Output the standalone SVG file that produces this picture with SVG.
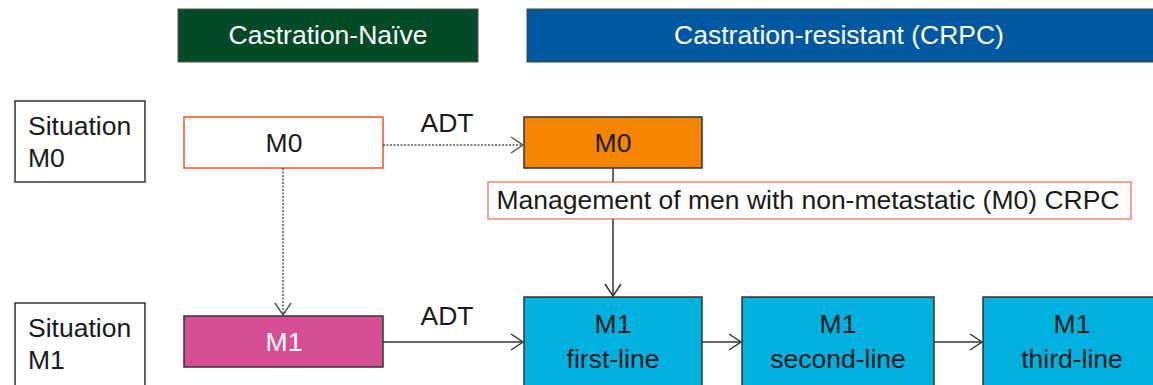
<svg xmlns="http://www.w3.org/2000/svg" width="1153" height="385" viewBox="0 0 1153 385">
<style>
  text { font-family: "Liberation Sans", Arial, sans-serif; font-size: 26.5px; fill: #1a1a1a; }
  .c { text-anchor: middle; }
  .w { fill: #ffffff; }
  .box { stroke: #333333; stroke-width: 1.5; }
  .line { stroke: #333333; stroke-width: 1.5; fill: none; }
  .dash { stroke: #555555; stroke-width: 1.5; fill: none; stroke-dasharray: 2 1.5; }
</style>
<defs>
  <marker id="arr" viewBox="0 0 14 18" refX="13" refY="9" markerWidth="14" markerHeight="18" markerUnits="userSpaceOnUse" orient="auto">
    <path d="M1,1 L13,9 L1,17" fill="none" stroke="#333333" stroke-width="1.5"/>
  </marker>
  <marker id="arrd" viewBox="0 0 14 18" refX="13" refY="9" markerWidth="14" markerHeight="18" markerUnits="userSpaceOnUse" orient="auto">
    <path d="M1,1 L13,9 L1,17" fill="none" stroke="#555555" stroke-width="1.5"/>
  </marker>
</defs>
<rect width="1153" height="385" fill="#ffffff"/>

<g id="hdr-naive">
  <rect x="178" y="9" width="300" height="53" fill="#034b27" stroke="#555" stroke-width="1"/>
  <text x="328" y="44" class="c w">Castration-Naïve</text>
</g>
<g id="hdr-crpc">
  <rect x="527" y="9" width="630" height="53" fill="#0059a0" stroke="#444" stroke-width="1"/>
  <text x="839" y="44" class="c w">Castration-resistant (CRPC)</text>
</g>

<g id="sit-m0">
  <rect x="15" y="101" width="130" height="81" fill="#ffffff" class="box"/>
  <text x="28" y="135">Situation</text>
  <text x="28" y="167">M0</text>
</g>
<g id="sit-m1">
  <rect x="15" y="303" width="130" height="95" fill="#ffffff" class="box"/>
  <text x="28" y="337">Situation</text>
  <text x="28" y="369">M1</text>
</g>

<g id="naive-m0">
  <rect x="184" y="117" width="199" height="51" fill="#ffffff" stroke="#f05228" stroke-width="1.5"/>
  <text x="284" y="152" class="c">M0</text>
</g>
<g id="naive-m1">
  <rect x="184" y="316" width="199" height="51" fill="#d64f95" class="box"/>
  <text x="284" y="351" class="c w">M1</text>
</g>
<g id="crpc-m0">
  <rect x="524" y="117" width="178" height="51" fill="#f58500" class="box"/>
  <text x="613" y="152" class="c">M0</text>
</g>
<g id="mgmt">
  <rect x="488" y="182" width="643" height="37" fill="#ffffff" stroke="#f4876b" stroke-width="1.5"/>
  <text x="808" y="209" class="c">Management of men with non-metastatic (M0) CRPC</text>
</g>
<g id="m1-first">
  <rect x="524" y="297" width="178" height="100" fill="#00b1e0" class="box"/>
  <text x="613" y="333" class="c">M1</text>
  <text x="613" y="368" class="c">first-line</text>
</g>
<g id="m1-second">
  <rect x="742" y="297" width="192" height="100" fill="#00b1e0" class="box"/>
  <text x="838" y="333" class="c">M1</text>
  <text x="838" y="368" class="c">second-line</text>
</g>
<g id="m1-third">
  <rect x="983" y="297" width="180" height="100" fill="#00b1e0" class="box"/>
  <text x="1072" y="333" class="c">M1</text>
  <text x="1072" y="368" class="c">third-line</text>
</g>

<g id="connectors">
  <line x1="383" y1="145" x2="523" y2="145" class="dash" marker-end="url(#arrd)"/>
  <text x="447" y="132" class="c">ADT</text>
  <line x1="283" y1="168" x2="283" y2="315" class="dash" marker-end="url(#arrd)"/>
  <line x1="613" y1="168" x2="613" y2="182" class="line"/>
  <line x1="613" y1="219" x2="613" y2="296" class="line" marker-end="url(#arr)"/>
  <line x1="383" y1="342" x2="523" y2="342" class="line" marker-end="url(#arr)"/>
  <text x="447" y="325" class="c">ADT</text>
  <line x1="702" y1="342" x2="741" y2="342" class="line" marker-end="url(#arr)"/>
  <line x1="934" y1="342" x2="982" y2="342" class="line" marker-end="url(#arr)"/>
</g>
</svg>
